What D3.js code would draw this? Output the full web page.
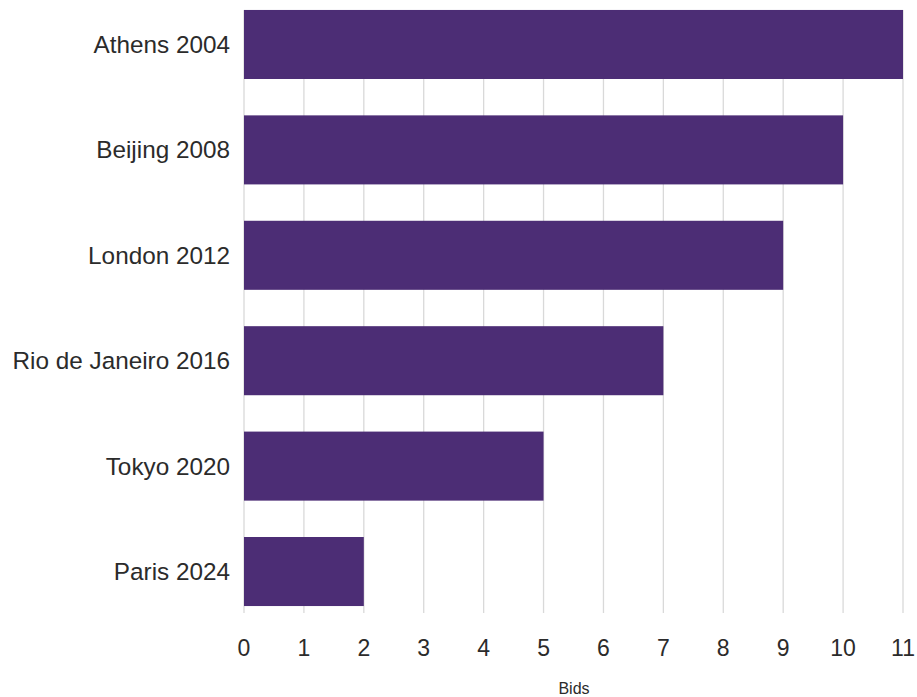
<!DOCTYPE html>
<html><head><meta charset="utf-8">
<script src="https://cdn.jsdelivr.net/npm/d3@7"></script>
<style>body{margin:0;background:#fff;}svg{display:block;font-family:"Liberation Sans",Arial,sans-serif;}</style>
</head><body>
<svg id="chart" width="917" height="697"></svg>
<script>
const categories = ["Athens 2004","Beijing 2008","London 2012","Rio de Janeiro 2016","Tokyo 2020","Paris 2024"];
const bids = [11,10,9,7,5,2];
const xTicks = [0,1,2,3,4,5,6,7,8,9,10,11];
const xTitle = "Bids";

const svg = d3.select("#chart");
const x = d3.scaleLinear().domain([0,11]).range([244,903]);
const y = d3.scaleBand().domain(categories).range([3,613]).paddingInner(0.345).paddingOuter(0.066);
const gridTop = y(categories[0]);

svg.append("g").selectAll("line").data(xTicks).join("line")
  .attr("x1",d=>x(d)).attr("x2",d=>x(d)).attr("y1",gridTop).attr("y2",613)
  .attr("stroke","#d9d9d9").attr("stroke-width",1.3);

svg.append("g").selectAll("rect").data(categories).join("rect")
  .attr("x",x(0)).attr("y",d=>y(d)).attr("height",y.bandwidth())
  .attr("width",(d,i)=>x(bids[i])-x(0)).attr("fill","#4c2d75");

svg.append("g").selectAll("text").data(categories).join("text")
  .attr("x",230).attr("y",d=>y(d)+y.bandwidth()/2).attr("dy","0.35em")
  .attr("text-anchor","end").attr("font-size",24.3).attr("fill","#2b2b2b").text(d=>d);

svg.append("g").selectAll("text").data(xTicks).join("text")
  .attr("x",d=>x(d)).attr("y",656).attr("text-anchor","middle")
  .attr("font-size",23).attr("fill","#2b2b2b").text(d=>d);

svg.append("text").attr("x",574).attr("y",694).attr("text-anchor","middle")
  .attr("font-size",16).attr("fill","#2b2b2b").text(xTitle);
</script>
</body></html>
